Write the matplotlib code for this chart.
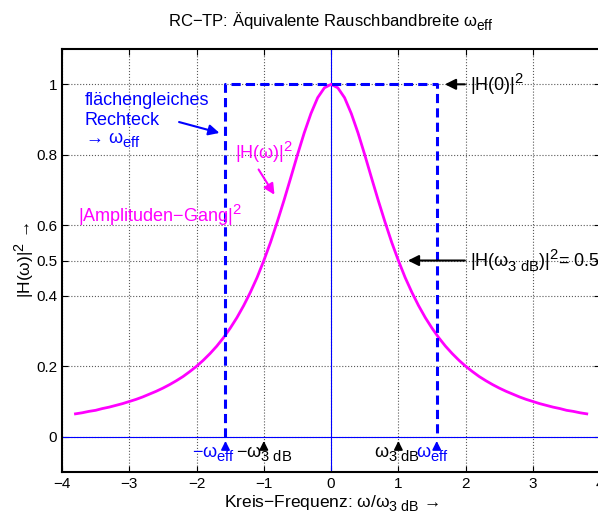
import numpy as np
import matplotlib
import matplotlib.pyplot as plt
import matplotlib._mathtext as mt

plt.rcParams['font.family'] = ['Liberation Sans', 'DejaVu Sans']
plt.rcParams['mathtext.fontset'] = 'custom'
plt.rcParams['mathtext.rm'] = 'Liberation Sans'
plt.rcParams['mathtext.it'] = 'Liberation Sans'
plt.rcParams['mathtext.bf'] = 'Liberation Sans:bold'
plt.rcParams['axes.unicode_minus'] = True

# bigger, lower sub/superscripts
mt.SHRINK_FACTOR = 0.82
mt.FontConstantsBase.sub1 = 0.45
mt.FontConstantsBase.sub2 = 0.6

# |H(w)|^2 of the RC low pass, right half (w >= 0), normalised to w_3dB
w_half = [0.0, 0.1, 0.2, 0.3, 0.4, 0.5, 0.6, 0.7, 0.8, 0.9,
          1.0, 1.1, 1.2, 1.3, 1.4, 1.5, 1.6, 1.7, 1.8, 1.9,
          2.0, 2.1, 2.2, 2.3, 2.4, 2.5, 2.6, 2.7, 2.8, 2.9,
          3.0, 3.1, 3.2, 3.3, 3.4, 3.5, 3.6, 3.7, 3.8]
h2_half = [1.000, 0.990, 0.962, 0.917, 0.862, 0.800, 0.735, 0.671, 0.610, 0.552,
           0.500, 0.452, 0.410, 0.372, 0.338, 0.308, 0.281, 0.257, 0.236, 0.217,
           0.200, 0.185, 0.171, 0.159, 0.148, 0.138, 0.129, 0.121, 0.113, 0.106,
           0.100, 0.094, 0.089, 0.084, 0.080, 0.075, 0.072, 0.068, 0.065]

w_eff = 1.57      # equivalent noise bandwidth
w_3db = 1.0
h0 = 1.0
h_3db = 0.5

xticks = [-4, -3, -2, -1, 0, 1, 2, 3, 4]
yticks = [0, 0.2, 0.4, 0.5, 0.6, 0.8, 1]

w = np.concatenate([-np.array(w_half[:0:-1]), w_half])
h2 = np.concatenate([h2_half[:0:-1], h2_half])

blue = '#0000ff'
mag = '#ff00ff'
fs = 13

fig = plt.figure(figsize=(5.98, 5.22), dpi=100)
ax = fig.add_axes([0.1037, 0.0958, 0.9, 0.8102])

ax.axvline(0, color=blue, lw=0.8)
ax.axhline(0, color=blue, lw=0.8)

# curve and rectangle of equal area
ax.plot(w, h2, color=mag, lw=2)
ax.plot([-w_eff, -w_eff, w_eff, w_eff], [0, h0, h0, 0], color=blue, lw=2.2,
        linestyle=(0, (3, 1.7)))

ax.set_xlim(-4, 4)
ax.set_ylim(-0.1, 1.1)
ax.set_xticks(xticks)
ax.set_yticks(yticks)
ax.set_yticklabels(['0', '0.2', '0.4', '0.5', '0.6', '0.8', '1'])
ax.grid(True, linestyle=':', color='0.35', lw=0.8)
ax.tick_params(direction='in', top=True, right=True, labelsize=11, length=4)
for s in ax.spines.values():
    s.set_linewidth(1.5)

ax.set_title(r'RC−TP: Äquivalente Rauschbandbreite $\omega_{\mathrm{eff}}$',
             fontsize=12, pad=16)
ax.set_xlabel(r'Kreis−Frequenz: $\omega/\omega_{\mathrm{3\ dB}}$ →', fontsize=12.5,
              labelpad=2)
ax.set_ylabel(r'|H($\omega$)|$^2$ →', fontsize=12.5, labelpad=0)

arr = dict(arrowstyle='-|>', lw=1.5, mutation_scale=16)

# annotations
ax.text(-3.66, 0.955, 'flächengleiches', color=blue, fontsize=fs, va='center')
ax.text(-3.66, 0.898, 'Rechteck', color=blue, fontsize=fs, va='center')
ax.text(-3.66, 0.84, r'→ $\omega_{\mathrm{eff}}$', color=blue, fontsize=fs, va='center')
ax.annotate('', xy=(-w_eff - 0.05, 0.86), xytext=(-2.3, 0.895),
            arrowprops=dict(arr, color=blue))

ax.text(-1.43, 0.808, r'|H($\omega$)|$^2$', color=mag, fontsize=fs, va='center')
ax.annotate('', xy=(-0.82, 0.68), xytext=(-1.1, 0.765),
            arrowprops=dict(arr, color=mag))
ax.text(-3.76, 0.63, r'|Amplituden−Gang|$^2$', color=mag, fontsize=fs, va='center')

ax.text(2.07, h0, r'|H(0)|$^2$', fontsize=fs, va='center')
ax.annotate('', xy=(w_eff + 0.08, h0), xytext=(2.03, h0),
            arrowprops=dict(arr, color='k'))

ax.text(2.07, h_3db, r'|H($\omega_{\mathrm{3\ dB}}$)|$^2$= 0.5', fontsize=fs,
        va='center')
ax.annotate('', xy=(w_3db + 0.1, h_3db), xytext=(2.03, h_3db),
            arrowprops=dict(arr, color='k'))

# frequency markers on the axis
for xm, c in [(-w_eff, blue), (w_eff, blue), (-w_3db, 'k'), (w_3db, 'k')]:
    ax.annotate('', xy=(xm, -0.004), xytext=(xm, -0.04),
                arrowprops=dict(arr, color=c, lw=1.2, mutation_scale=13))
ax.text(-1.75, -0.05, r'$-\omega_{\mathrm{eff}}$', color=blue, fontsize=fs,
        ha='center', va='center')
ax.text(-1.0, -0.05, r'$-\omega_{\mathrm{3\ dB}}$', color='k', fontsize=fs,
        ha='center', va='center')
ax.text(0.98, -0.05, r'$\omega_{\mathrm{3\ dB}}$', color='k', fontsize=fs,
        ha='center', va='center')
ax.text(1.5, -0.05, r'$\omega_{\mathrm{eff}}$', color=blue, fontsize=fs,
        ha='center', va='center')

fig.savefig('out.png', dpi=100)
